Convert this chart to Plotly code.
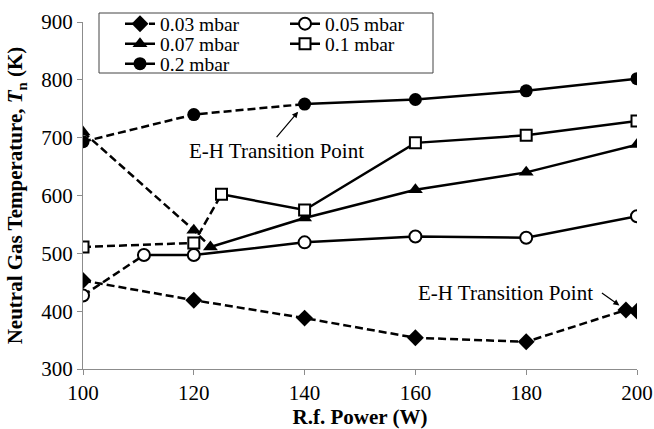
import plotly.graph_objects as go

# ---------------- data ----------------
series_names = ["0.03 mbar", "0.05 mbar", "0.07 mbar", "0.1 mbar", "0.2 mbar"]

x_003 = [100, 120, 140, 160, 180, 198, 200]
y_003 = [453, 419, 388, 354, 347, 402, 400]

x_005 = [100, 111, 120, 140, 160, 180, 200]
y_005 = [427, 497, 497, 519, 529, 527, 564]

x_007 = [100, 120, 123, 140, 160, 180, 200]
y_007 = [710, 540, 511, 561, 610, 640, 688]

x_010 = [100, 120, 125, 140, 160, 180, 200]
y_010 = [511, 518, 602, 575, 691, 704, 729]

x_020 = [100, 120, 140, 160, 180, 200]
y_020 = [693, 740, 758, 766, 781, 802]

x_ticks = [100, 120, 140, 160, 180, 200]
y_ticks = [300, 400, 500, 600, 700, 800, 900]

annot_text = "E-H Transition Point"

# ---------------- styling ----------------
FONT = "Liberation Serif, Times New Roman, serif"
DASH = "8px,4px"
LW = 2.5

# index where solid line starts (dashed before it); None = fully dashed
solid_from = [None, 1, 2, 2, 2]
markers = [
    dict(symbol="diamond", size=13, color="black", line=dict(color="black", width=0)),
    dict(symbol="circle", size=12, color="white", line=dict(color="black", width=2)),
    dict(symbol="triangle-up", size=13, color="black", line=dict(color="black", width=0)),
    dict(symbol="square", size=11, color="white", line=dict(color="black", width=2)),
    dict(symbol="circle", size=13, color="black", line=dict(color="black", width=0)),
]
legend_ids = ["legend", "legend2", "legend3", "legend4", "legend5"]

data = [(x_003, y_003), (x_005, y_005), (x_007, y_007), (x_010, y_010), (x_020, y_020)]

fig = go.Figure()
for i, (xs, ys) in enumerate(data):
    s = solid_from[i]
    if s is None:
        fig.add_trace(go.Scatter(x=xs, y=ys, mode="lines+markers", name=series_names[i],
                                 line=dict(color="black", width=LW, dash=DASH),
                                 marker=markers[i], legend=legend_ids[i]))
    else:
        fig.add_trace(go.Scatter(x=xs[:s + 1], y=ys[:s + 1], mode="lines",
                                 line=dict(color="black", width=LW, dash=DASH),
                                 showlegend=False, hoverinfo="skip"))
        fig.add_trace(go.Scatter(x=xs[s:], y=ys[s:], mode="lines", showlegend=False,
                                 line=dict(color="black", width=LW), hoverinfo="skip"))
        fig.add_trace(go.Scatter(x=xs, y=ys, mode="markers", name=series_names[i],
                                 marker=markers[i], showlegend=False))
        # legend proxy (solid line + marker)
        fig.add_trace(go.Scatter(x=[None], y=[None], mode="lines+markers", name=series_names[i],
                                 line=dict(color="black", width=LW), marker=markers[i],
                                 legend=legend_ids[i]))

# legend placement (one legend per entry to mimic 2-column grid)
W, H = 654, 429
ML, MR, MT, MB = 83, 17, 22, 60
pw, ph = W - ML - MR, H - MT - MB

def px_to_paper(px, py):
    return (px - ML) / pw, (H - MB - py) / ph

col_x = [120, 285]
row_y = [24, 44, 64]
positions = [(0, 0), (1, 0), (0, 1), (1, 1), (0, 2)]
legend_layouts = {}
for lid, (c, r) in zip(legend_ids, positions):
    lx, ly = px_to_paper(col_x[c], row_y[r])
    legend_layouts[lid] = dict(x=lx, y=ly, xanchor="left", yanchor="middle",
                               bgcolor="rgba(0,0,0,0)", borderwidth=0,
                               font=dict(family=FONT, size=19.5, color="black"),
                               itemwidth=30, tracegroupgap=0)

bx0, by0 = px_to_paper(99, 73)
bx1, by1 = px_to_paper(433, 13)

fig.update_layout(
    width=W, height=H,
    margin=dict(l=ML, r=MR, t=MT, b=MB, autoexpand=False),
    paper_bgcolor="white", plot_bgcolor="white",
    font=dict(family=FONT, size=21, color="black"),
    showlegend=True,
    shapes=[dict(type="rect", xref="paper", yref="paper", x0=bx0, x1=bx1, y0=by0, y1=by1,
                 line=dict(color="#444", width=1), fillcolor="rgba(0,0,0,0)", layer="above")],
    **legend_layouts,
)

fig.update_xaxes(range=[100, 200], tickvals=x_ticks, ticks="outside", ticklen=5,
                 tickcolor="#8c8c8c", showline=True, linecolor="#8c8c8c", linewidth=1.3,
                 showgrid=False, zeroline=False,
                 tickfont=dict(family=FONT, size=21, color="black"),
                 title=dict(text="<b>R.f. Power (W)</b>", standoff=7,
                            font=dict(family=FONT, size=21, color="black")))
fig.update_yaxes(range=[300, 900], tickvals=y_ticks, ticks="outside", ticklen=5,
                 tickcolor="#8c8c8c", showline=True, linecolor="#8c8c8c", linewidth=1.3,
                 showgrid=False, zeroline=False,
                 tickfont=dict(family=FONT, size=21, color="black"),
                 title=dict(text="<b>Neutral Gas Temperature, <i>T</i><sub>n</sub> (K)</b>",
                            standoff=12, font=dict(family=FONT, size=21, color="black")))

# annotations: text with arrows pointing at the E-H transition points
fig.add_annotation(x=x_020[2], y=y_020[2], text=annot_text, showarrow=True,
                   ax=-28, ay=33, xanchor="center", yanchor="top", borderpad=1,
                   arrowhead=2, arrowsize=1, arrowwidth=1.2, arrowcolor="black", standoff=10,
                   font=dict(family=FONT, size=21, color="black"))
fig.add_annotation(x=x_003[5], y=y_003[5], text=annot_text, showarrow=True,
                   ax=-24, ay=-17, xanchor="right", yanchor="middle", borderpad=8,
                   arrowhead=2, arrowsize=1, arrowwidth=1.2, arrowcolor="black", standoff=8,
                   font=dict(family=FONT, size=21, color="black"))

fig.write_html("out.html")
